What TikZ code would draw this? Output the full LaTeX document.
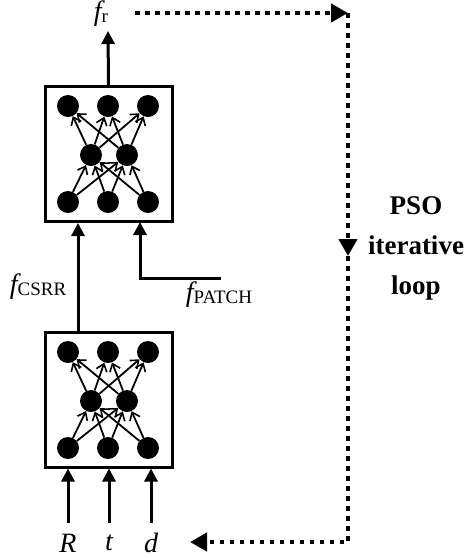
\documentclass[tikz,border=0pt]{standalone}
\usepackage{fontspec}
\setmainfont{Liberation Serif}
\usetikzlibrary{arrows.meta}

\tikzset{
  neuron/.style={circle, fill=black, minimum size=22pt, inner sep=0pt},
  netbox/.style={draw, line width=3pt, minimum width=127pt, minimum height=135pt, inner sep=0pt},
  link/.style={line width=1.8pt, -{Straight Barb[length=7pt,width=11pt,line width=1.6pt]}},
  feed/.style={line width=3pt, -{Triangle[length=13pt,width=13pt]}},
  loopline/.style={line width=4.5pt, dash pattern=on 4.5pt off 5.5pt, -{Triangle[length=17pt,width=18pt]}},
  lbl/.style={font=\fontsize{28}{30}\selectfont\itshape, inner sep=1pt},
}
\newcommand{\fsub}[1]{\textit{f}\raisebox{-2pt}{\fontsize{19}{20}\selectfont\upshape #1}}

\begin{document}
\begin{tikzpicture}[x=1pt, y=-1pt]
  \useasboundingbox (0,0) rectangle (472,558);
  % the two networks
  \node[netbox] (netB) at (108.5,154) {};
  \node[netbox] (netA) at (108.5,399.5) {};
  \foreach \net/\y in {netB/86, netA/332} {
    \foreach \i/\x in {1/68, 2/108, 3/148} {
      \node[neuron] (\net-in\i) at (\x,\y+116) {};
      \node[neuron] (\net-out\i) at (\x,\y+20) {};
    }
    \node[neuron] (\net-h1) at (91,\y+69) {};
    \node[neuron] (\net-h2) at (127,\y+69) {};
    \foreach \i in {1,2,3} {
      \foreach \h in {1,2} {
        \draw[link] (\net-in\i) -- (\net-h\h);
        \draw[link] (\net-h\h) -- (\net-out\i);
      }
    }
  }
  % output
  \node[lbl] (fr) at (101,14) {\fsub{r}};
  \draw[feed] (netB.north) -- (108,31);
  % between the networks
  \node[lbl] (fcsrr) at (38,287) {\fsub{CSRR}};
  \coordinate (csrrTap) at (78,332);
  \draw[feed] (csrrTap) -- (csrrTap |- netB.south);
  \node[lbl] (fpatch) at (219,295) {\fsub{PATCH}};
  \coordinate (patchIn) at (221,278);
  \coordinate (patchTap) at (140,222);
  \draw[feed] (patchIn) -| (patchTap);
  % inputs
  \foreach \n/\x in {R/68, t/109, d/151} {
    \node[lbl] (\n) at (\x,543) {\n};
    \draw[feed] ([yshift=20pt]\n.center) -- (\n |- netA.south);
  }
  % optimisation loop
  \coordinate (loopStart) at (135,13);
  \coordinate (loopTR) at (348,13);
  \coordinate (loopMid) at (348,256);
  \coordinate (loopBR) at (348,542);
  \coordinate (loopEnd) at (190,542);
  \draw[loopline] (loopStart) -- (loopTR);
  \draw[loopline] (loopTR) -- (loopMid);
  \draw[loopline] (loopMid) -- (loopBR) -- (loopEnd);
  \node[font=\fontsize{27}{40}\selectfont\bfseries, align=center] (pso) at (416,248) {PSO\\iterative\\loop};
\end{tikzpicture}
\end{document}
